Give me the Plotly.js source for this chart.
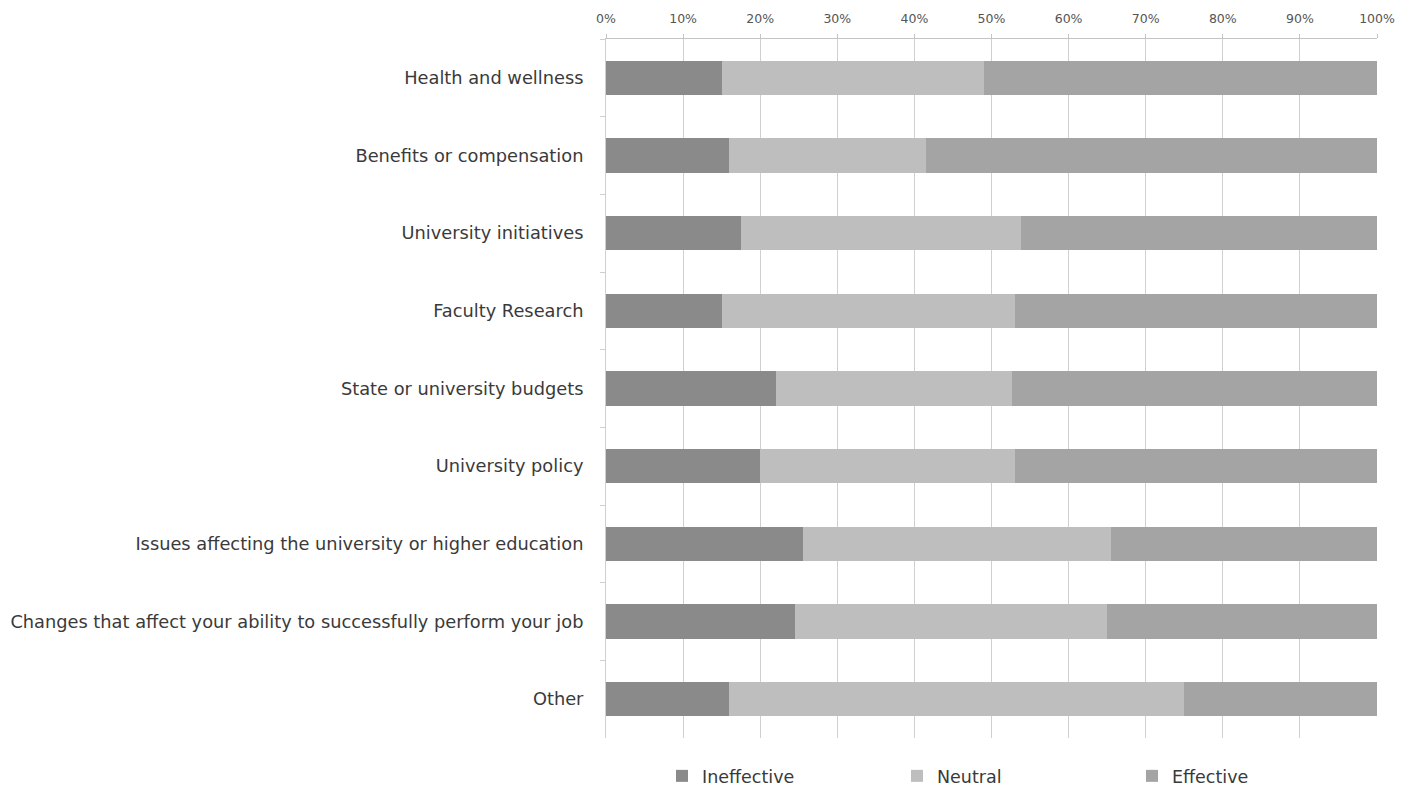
<!DOCTYPE html>
<html>
<head>
<meta charset="utf-8">
<script src="https://cdn.plot.ly/plotly-3.0.1.min.js"></script>
<style>html,body{margin:0;padding:0;background:#fff;}#chart{width:1412px;height:787px;}</style>
</head>
<body>
<div id="chart"></div>
<script>
const categories = [
  "Health and wellness",
  "Benefits or compensation",
  "University initiatives",
  "Faculty Research",
  "State or university budgets",
  "University policy",
  "Issues affecting the university or higher education",
  "Changes that affect your ability to successfully perform your job",
  "Other"
];
const ineffective = [0.15, 0.16, 0.175, 0.15, 0.22, 0.20, 0.255, 0.245, 0.16];
const neutral     = [0.34, 0.255, 0.363, 0.38, 0.307, 0.33, 0.40, 0.405, 0.59];
const effective   = [0.51, 0.585, 0.462, 0.47, 0.473, 0.47, 0.345, 0.35, 0.25];
const seriesNames = ["Ineffective", "Neutral", "Effective"];
const seriesColors = ["#8a8a8a", "#bebebe", "#a4a4a4"];

const seriesValues = [ineffective, neutral, effective];
const traces = seriesValues.map((vals, i) => ({
  type: 'bar',
  orientation: 'h',
  name: seriesNames[i],
  x: vals,
  y: categories,
  width: 0.44,
  marker: {color: seriesColors[i], line: {width: 0}},
  hoverinfo: 'x+y+name'
}));

const layout = {
  width: 1412,
  height: 787,
  barmode: 'stack',
  paper_bgcolor: '#ffffff',
  plot_bgcolor: '#ffffff',
  margin: {l: 606, r: 35, t: 39, b: 49, pad: 0, autoexpand: false},
  font: {family: 'DejaVu Sans, sans-serif', color: '#3a3a3a'},
  xaxis: {
    side: 'top',
    range: [0, 1],
    dtick: 0.1,
    tick0: 0,
    tickformat: '.0%',
    showgrid: true,
    gridcolor: '#d0d0d0',
    gridwidth: 1,
    zeroline: false,
    showline: true,
    linecolor: '#c4c4c4',
    linewidth: 1,
    ticks: 'outside',
    ticklen: 4,
    tickcolor: '#c4c4c4',
    ticklabelstandoff: 6,
    tickfont: {family: 'DejaVu Sans, sans-serif', size: 12.5, color: '#555555'},
    fixedrange: true
  },
  yaxis: {
    type: 'category',
    autorange: 'reversed',
    showgrid: false,
    showline: true,
    linecolor: '#d0d0d0',
    linewidth: 1,
    ticks: 'outside',
    tickson: 'boundaries',
    ticklen: 5,
    tickcolor: '#d0d0d0',
    ticklabelstandoff: 18,
    tickfont: {family: 'DejaVu Sans, sans-serif', size: 17.8, color: '#3a3a3a'},
    fixedrange: true
  },
  showlegend: true,
  legend: {
    orientation: 'h',
    x: 0.0726,
    xanchor: 'left',
    y: -0.0286,
    yanchor: 'top',
    entrywidth: 190,
    entrywidthmode: 'pixels',
    itemwidth: 30,
    font: {family: 'DejaVu Sans, sans-serif', size: 17.5, color: '#3a3a3a'},
    bgcolor: 'rgba(0,0,0,0)',
    traceorder: 'normal'
  },
  bargap: 0.56
};

Plotly.newPlot('chart', traces, layout, {displayModeBar: false, staticPlot: true});
</script>
</body>
</html>
